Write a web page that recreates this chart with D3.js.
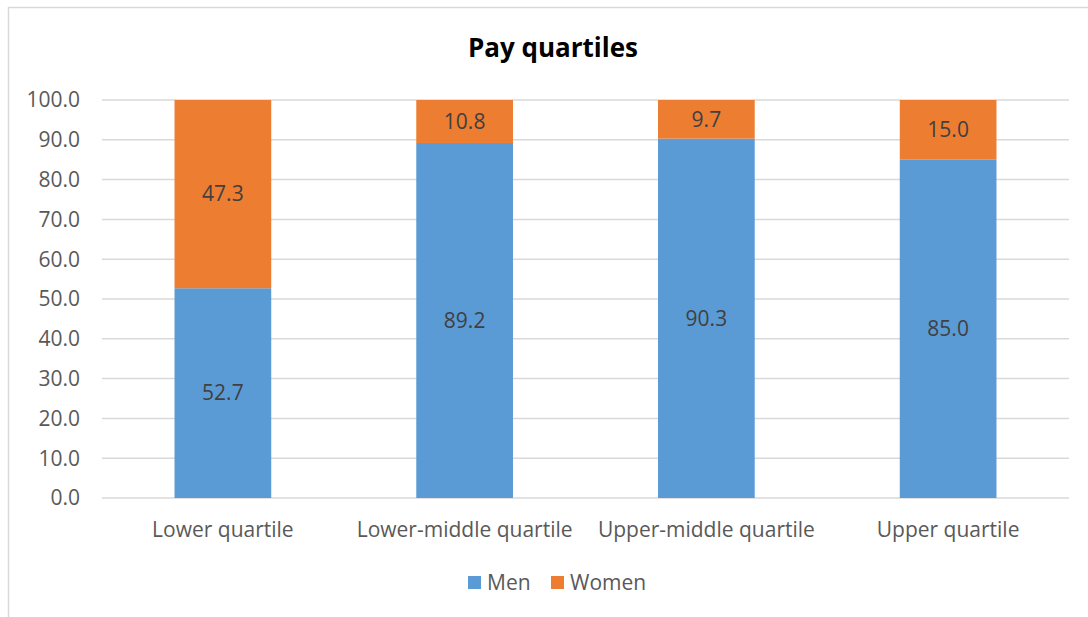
<!DOCTYPE html>
<html>
<head>
<meta charset="utf-8">
<script src="https://cdn.jsdelivr.net/npm/d3@7"></script>
<style>
  body { margin: 0; background: #fff; }
  text { font-family: "Open Sans", sans-serif; fill: #595959; }
</style>
</head>
<body>
<script>
var categories = ['Lower quartile', 'Lower-middle quartile', 'Upper-middle quartile', 'Upper quartile'];
var men = [52.7, 89.2, 90.3, 85.0];
var women = [47.3, 10.8, 9.7, 15.0];
var series = ['Men', 'Women'];
var colors = ['#5B9BD5', '#ED7D31'];
var yticks = [0, 10, 20, 30, 40, 50, 60, 70, 80, 90, 100];

var svgwidth = 1088, svgheight = 617;
var margins = { top: 100, bottom: 119, left: 102, right: 19 };
var width = svgwidth - margins.left - margins.right;
var height = svgheight - margins.top - margins.bottom;

var svg = d3.select('body').append('svg')
  .attr('width', svgwidth)
  .attr('height', svgheight);

// chart border
svg.append('rect')
  .attr('x', 8.5).attr('y', 7.5)
  .attr('width', 1200).attr('height', 700)
  .attr('fill', 'none')
  .attr('stroke', '#d9d9d9')
  .attr('stroke-width', 1.5);

svg.append('text')
  .attr('x', 553).attr('y', 57)
  .attr('text-anchor', 'middle')
  .style('font-size', '26px')
  .style('font-weight', 'bold')
  .style('fill', '#000')
  .text('Pay quartiles');

var xscale = d3.scaleBand().domain(categories).range([0, width]).paddingInner(0.6).paddingOuter(0.3);
var yscale = d3.scaleLinear().domain([0, 100]).range([height, 0]);

var g = svg.append('g').attr('transform', 'translate(' + margins.left + ',' + margins.top + ')');

g.selectAll('.grid').data(yticks).enter()
  .append('line')
  .attr('x1', 0).attr('x2', width)
  .attr('y1', function(d) { return yscale(d); })
  .attr('y2', function(d) { return yscale(d); })
  .attr('stroke', '#d9d9d9')
  .attr('stroke-width', 1.5);

g.selectAll('.ylab').data(yticks).enter()
  .append('text')
  .attr('x', -22)
  .attr('y', function(d) { return yscale(d); })
  .attr('dy', '0.35em')
  .attr('text-anchor', 'end')
  .style('font-size', '21px')
  .text(function(d) { return d.toFixed(1); });

var stacked = categories.map(function(c, i) {
  return [
    { cat: c, y0: 0, y1: men[i], v: men[i], s: 0 },
    { cat: c, y0: men[i], y1: men[i] + women[i], v: women[i], s: 1 }
  ];
});
var segs = [].concat.apply([], stacked);

g.selectAll('.bar').data(segs).enter()
  .append('rect')
  .attr('x', function(d) { return xscale(d.cat); })
  .attr('width', xscale.bandwidth())
  .attr('y', function(d) { return yscale(d.y1); })
  .attr('height', function(d) { return yscale(d.y0) - yscale(d.y1); })
  .attr('fill', function(d) { return colors[d.s]; });

g.selectAll('.vlab').data(segs).enter()
  .append('text')
  .attr('x', function(d) { return xscale(d.cat) + xscale.bandwidth() / 2; })
  .attr('y', function(d) { return yscale((d.y0 + d.y1) / 2); })
  .attr('dy', '0.35em')
  .attr('text-anchor', 'middle')
  .style('font-size', '21px')
  .style('fill', '#404040')
  .text(function(d) { return d.v.toFixed(1); });

g.selectAll('.xlab').data(categories).enter()
  .append('text')
  .attr('x', function(d) { return xscale(d) + xscale.bandwidth() / 2; })
  .attr('y', height + 39)
  .attr('text-anchor', 'middle')
  .style('font-size', '21px')
  .text(function(d) { return d; });

var legendX = [468, 551];
var legend = svg.selectAll('.legend').data(series).enter()
  .append('g')
  .attr('transform', function(d, i) { return 'translate(' + legendX[i] + ',576)'; });
legend.append('rect')
  .attr('width', 13).attr('height', 13)
  .attr('fill', function(d, i) { return colors[i]; });
legend.append('text')
  .attr('x', 19).attr('y', 7)
  .attr('dy', '0.35em')
  .style('font-size', '21px')
  .text(function(d) { return d; });
</script>
</body>
</html>
